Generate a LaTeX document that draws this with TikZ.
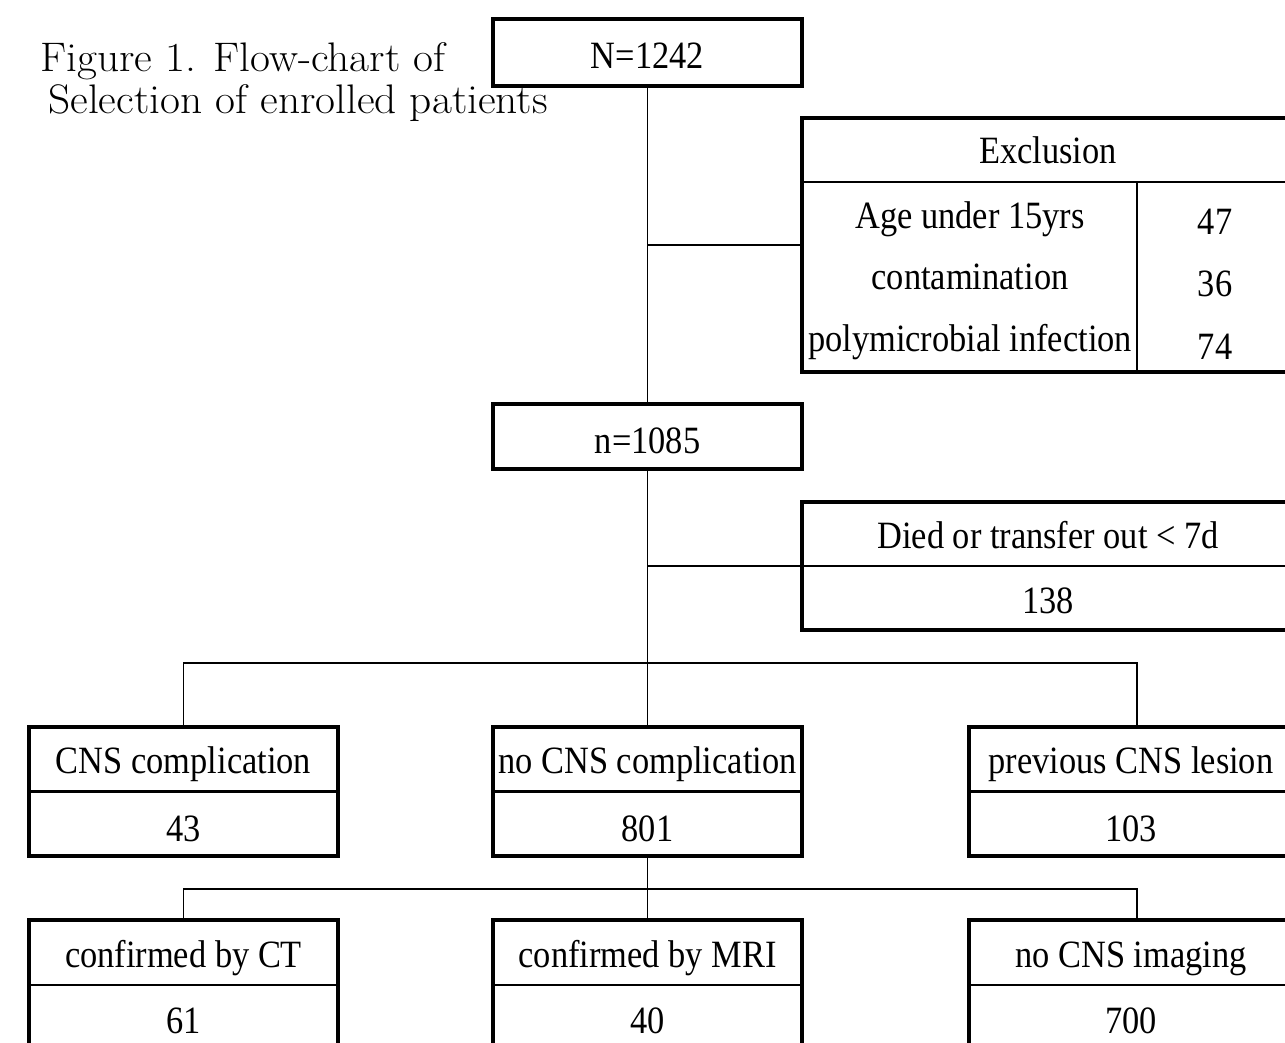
\documentclass[tikz,border=0pt]{standalone}
\usepackage{graphicx}
\usepackage{fontspec}
\newfontfamily\cellfont{Liberation Serif}
\usetikzlibrary{positioning,calc}
\newcommand*{\cnd}[1]{\scalebox{0.89}[1]{#1}}
\newcommand*{\wde}[1]{\scalebox{1.05}[1]{#1}}

\begin{document}
\begin{tikzpicture}[x=0.02cm,y=-0.02cm,
  box/.style={draw,line width=2pt,inner sep=0pt,
    minimum width=6.18cm,minimum height=2.58cm},
  lbl/.style={font=\cellfont\fontsize{22}{25}\selectfont,inner sep=0pt,anchor=base},
  ttl/.style={font=\fontsize{23.5}{26}\selectfont,inner sep=0pt,anchor=base west},
  wire/.style={line width=1pt},
  rule/.style={line width=1.4pt}]
% Page frame, the chart runs off the right and lower edges
\useasboundingbox (0,0) rectangle (1285,1042);
\clip (0,0) rectangle (1285,1042);
% Title
\node[ttl] (ttl1) at (40,71) {\wde{Figure 1. Flow-chart of}};
\node[ttl] (ttl2) at (48,113) {\wde{Selection of enrolled patients}};
% Boxes of the main column
\node[box,minimum height=1.34cm] (all) at (647.5,52.5) {};
\node[box,minimum height=1.3cm] (kept) at (647.5,436.5) {};
% Side tables
\node[box,minimum width=9.96cm,minimum height=5.08cm] (excl) at (1051,245) {};
\node[box,minimum width=9.96cm,minimum height=2.56cm] (died) at (1051,566) {};
% First row of outcomes
\node[box] (cns) at (183.5,791.5) {};
\node[box] (nocns) at (647.5,791.5) {};
\node[box,minimum width=6.72cm] (prev) at (1137,791.5) {};
% Second row, imaging
\node[box,minimum height=2.6cm] (ct) at (183.5,985) {};
\node[box,minimum height=2.6cm] (mri) at (647.5,985) {};
\node[box,minimum width=6.72cm,minimum height=2.6cm] (noimg) at (1137,985) {};
% Rules inside the boxes
\foreach \b in {died,cns,nocns,prev,ct,mri,noimg}
  \draw[rule] (\b.west) -- (\b.east);
\coordinate (exclcut) at (1051,182);
\coordinate (exclcol) at (1137,182);
\draw[rule] (excl.west |- exclcut) -- (excl.east |- exclcut);
\draw[wire] (exclcol) -- (exclcol |- excl.south);
% Connectors
\draw[wire] (all.south) -- (kept.north);
\draw[wire] (all.south |- excl.west) -- (excl.west);
\draw[wire] (kept.south) -- (nocns.north);
\draw[wire] (kept.south |- died.west) -- (died.west);
\coordinate (split1) at (647.5,663);
\draw[wire] (cns.north) |- (split1) -| (prev.north);
\draw[wire] (nocns.south) -- (mri.north);
\coordinate (split2) at (647.5,889);
\draw[wire] (ct.north) |- (split2) -| (noimg.north);
% Texts
\node[lbl] (allT) at (647.5,68) {\cnd{N=1242}};
\node[lbl] (keptT) at (647.5,453) {\cnd{n=1085}};
\node[lbl] (exclT) at (1048,163) {\cnd{Exclusion}};
\node[lbl] (ageT) at (970,228) {\cnd{Age under 15yrs}};
\node[lbl] (contT) at (970,289) {\cnd{contamination}};
\node[lbl] (polyT) at (970,351) {\cnd{polymicrobial infection}};
\node[lbl] (ageN) at (1215,234) {\cnd{47}};
\node[lbl] (contN) at (1215,296) {\cnd{36}};
\node[lbl] (polyN) at (1215,359) {\cnd{74}};
\node[lbl] (diedT) at (1048,548) {\cnd{Died or transfer out < 7d}};
\node[lbl] (diedN) at (1048,613) {\cnd{138}};
\node[lbl] (cnsT) at (183.5,773) {\cnd{CNS complication}};
\node[lbl] (cnsN) at (183.5,841) {\cnd{43}};
\node[lbl] (nocnsT) at (647.5,773) {\cnd{no CNS complication}};
\node[lbl] (nocnsN) at (647.5,841) {\cnd{801}};
\node[lbl] (prevT) at (1131,773) {\cnd{previous CNS lesion}};
\node[lbl] (prevN) at (1131,841) {\cnd{103}};
\node[lbl] (ctT) at (183.5,967) {\cnd{confirmed by CT}};
\node[lbl] (ctN) at (183.5,1033) {\cnd{61}};
\node[lbl] (mriT) at (647.5,967) {\cnd{confirmed by MRI}};
\node[lbl] (mriN) at (647.5,1033) {\cnd{40}};
\node[lbl] (noimgT) at (1131,967) {\cnd{no CNS imaging}};
\node[lbl] (noimgN) at (1131,1033) {\cnd{700}};
\end{tikzpicture}
\end{document}
